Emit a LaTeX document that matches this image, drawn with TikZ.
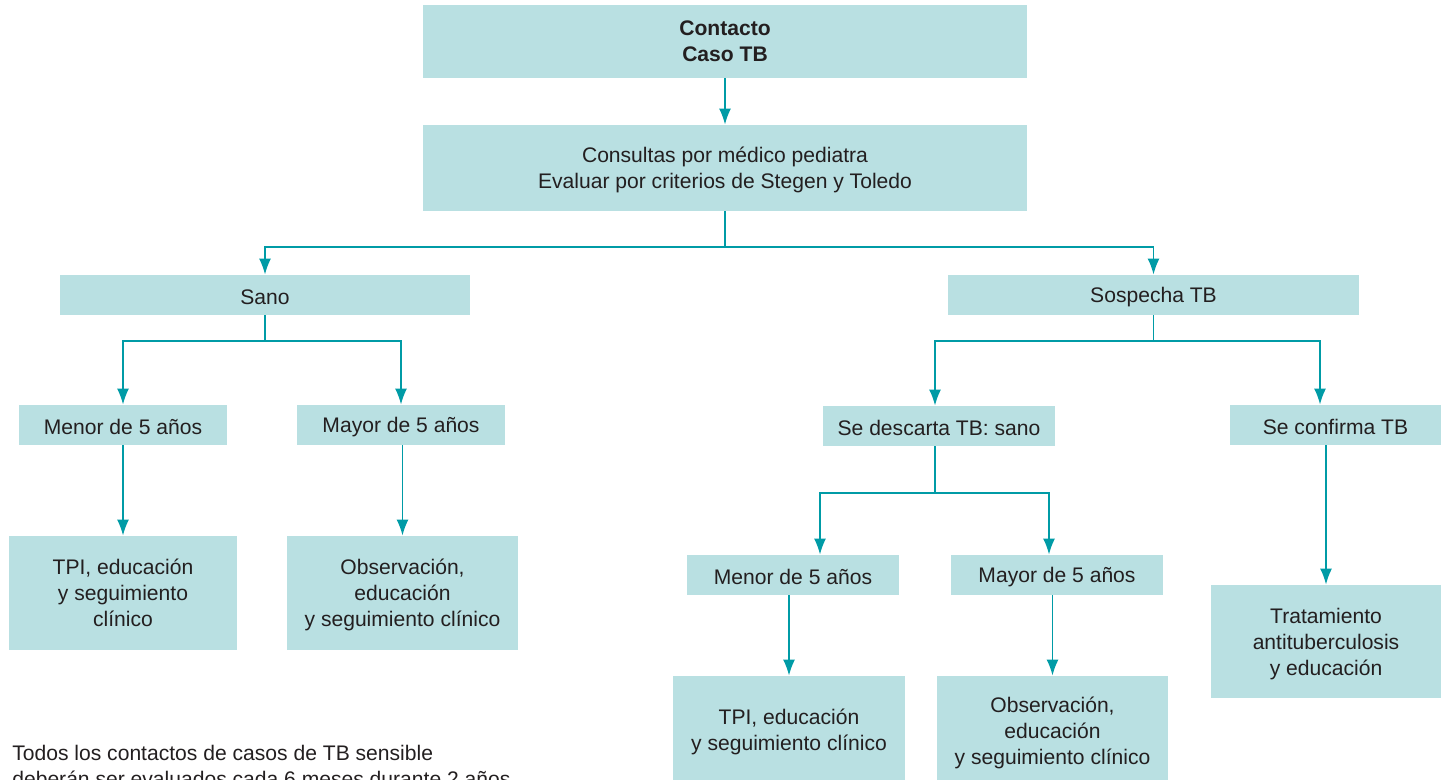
\documentclass[tikz,border=0pt]{standalone}
\usepackage{fontspec}
\setmainfont{Liberation Sans}
\usepackage{tikz}
\usetikzlibrary{arrows.meta}
\usetikzlibrary{positioning}
\definecolor{cajateal}{RGB}{185,224,226}
\definecolor{lineateal}{RGB}{0,155,166}
\definecolor{textogris}{RGB}{35,31,32}

\begin{document}
\begin{tikzpicture}[x=0.02cm,y=-0.02cm,
    caja/.style={fill=cajateal,text=textogris,align=center,inner sep=0pt,
      font=\fontsize{12}{14.8}\selectfont},
    varias/.style={caja,text depth=-9pt},
    angosta/.style={caja,minimum height=0.8cm,execute at begin node={\rule{0pt}{11pt}}},
    linea/.style={lineateal,line width=1.1pt},
    flecha/.style={linea,-{Latex[length=3.2mm,width=2.4mm]}}]
    \useasboundingbox (0,0) rectangle (1443,779);
    % cabecera
    \node[varias,minimum width=12.08cm,minimum height=1.46cm,
      font=\fontsize{12}{14.8}\selectfont\bfseries] (contacto) at (725,41.5)
      {Contacto\\Caso TB};
    \node[varias,minimum width=12.08cm,minimum height=1.72cm] (consulta) at (725,168)
      {Consultas por médico pediatra\\Evaluar por criterios de Stegen y Toledo};
    \node[angosta,minimum width=8.2cm] (sano) at (265,295) {Sano};
    \node[angosta,minimum width=8.22cm] (sospecha) at (1153.5,295) {Sospecha TB};
    % rama sano
    \node[angosta,minimum width=4.16cm] (menorA) at (123,425) {Menor de 5 años};
    \node[angosta,minimum width=4.16cm] (mayorA) at (401,425) {Mayor de 5 años};
    \node[varias,minimum width=4.56cm,minimum height=2.28cm] (tpiA) at (123,593)
      {TPI, educación\\y seguimiento\\clínico};
    \node[varias,minimum width=4.62cm,minimum height=2.28cm] (obsA) at (402.5,593)
      {Observación,\\educación\\y seguimiento clínico};
    % rama sospecha
    \node[angosta,minimum width=4.64cm] (descarta) at (939,426) {Se descarta TB: sano};
    \node[angosta,minimum width=4.22cm] (confirma) at (1335.5,425) {Se confirma TB};
    \node[angosta,minimum width=4.24cm] (menorB) at (793,575) {Menor de 5 años};
    \node[angosta,minimum width=4.24cm] (mayorB) at (1057,575) {Mayor de 5 años};
    \node[varias,minimum width=4.64cm,minimum height=2.16cm] (tpiB) at (789,730)
      {TPI, educación\\y seguimiento clínico};
    \node[varias,minimum width=4.62cm,minimum height=2.2cm] (obsB) at (1052.5,731)
      {Observación,\\educación\\y seguimiento clínico};
    \node[varias,minimum width=4.6cm,minimum height=2.26cm] (trat) at (1326,641.5)
      {Tratamiento\\antituberculosis\\y educación};
    \node[text=textogris,align=left,inner sep=0pt,anchor=north west,
      font=\fontsize{12}{14.8}\selectfont] (nota) at (12,745)
      {Todos los contactos de casos de TB sensible\\deberán ser evaluados cada 6 meses durante 2 años};
    % conectores
    \draw[flecha] (contacto) -- (consulta);
    \draw[linea] (consulta.south) -- ++(0,36) coordinate (r1);
    \draw[flecha] (r1) -| (sano);
    \draw[flecha] (r1) -| (sospecha);
    \draw[linea] (sano.south) -- ++(0,26) coordinate (r2);
    \draw[flecha] (r2) -| (menorA);
    \draw[flecha] (r2) -| (mayorA);
    \draw[linea] (sospecha.south) -- ++(0,26) coordinate (r3);
    \draw[flecha] (r3) -| ([xshift=-0.08cm]descarta.north);
    \draw[flecha] (r3) -| ([xshift=-0.31cm]confirma.north);
    \draw[linea] ([xshift=-0.08cm]descarta.south) -- ++(0,47) coordinate (r4);
    \draw[flecha] (r4) -| ([xshift=0.54cm]menorB.north);
    \draw[flecha] (r4) -| ([xshift=-0.16cm]mayorB.north);
    \foreach \a/\b in {menorA/tpiA, mayorA/obsA, menorB/tpiB, mayorB/obsB, confirma/trat}{
      \draw[flecha] (\a.south -| \b.north) -- (\b.north);}
  \end{tikzpicture}
\end{document}
